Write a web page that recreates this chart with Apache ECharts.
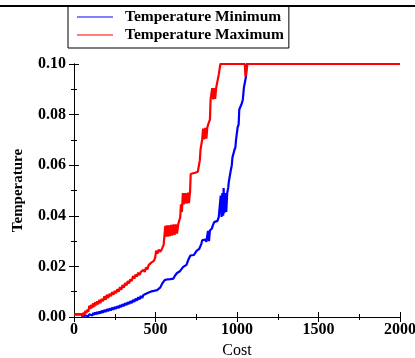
<!DOCTYPE html>
<html>
<head>
<meta charset="utf-8">
<script src="https://cdn.jsdelivr.net/npm/echarts@6/dist/echarts.min.js"></script>
<style>
  html, body { margin: 0; padding: 0; background: #fff; }
  #chart { width: 415px; height: 358px; }
</style>
</head>
<body>
<div id="chart"></div>
<script>
// Series names
const seriesNames = ['Temperature Minimum', 'Temperature Maximum'];

// Axis ranges and ticks
const xTicks = [0, 500, 1000, 1500, 2000];
const yTicks = [0.00, 0.02, 0.04, 0.06, 0.08, 0.10];

// Minimum temperature vs. cost: [cost, temperature]
const tempMin = [
  [0,0.001],[50,0.001],[52,0],[58,0.0004],[64,0],[70,0.0006],[76,0.0001],[82,0.0009],[88,0.0003],
  [94,0.0011],[100,0.0004],[106,0.0013],[112,0.0006],[118,0.0016],[124,0.0008],[130,0.0018],
  [136,0.001],[142,0.002],[148,0.0012],[155,0.0022],[162,0.0014],[170,0.0025],[178,0.0017],
  [186,0.0028],[194,0.002],[202,0.0031],[210,0.0023],[218,0.0034],[226,0.0026],[234,0.0037],
  [242,0.0029],[250,0.004],[258,0.0032],[266,0.0043],[274,0.0035],[282,0.0047],[290,0.0039],
  [298,0.0051],[306,0.0043],[314,0.0055],[322,0.0047],[330,0.0059],[338,0.0051],[346,0.0063],
  [354,0.0055],[362,0.0068],[370,0.006],[378,0.0073],[386,0.0065],[394,0.0078],[402,0.007],
  [410,0.0083],[418,0.0075],[426,0.0087],[434,0.008],[442,0.0092],[450,0.0085],[458,0.0097],
  [466,0.009],[474,0.0101],[482,0.0094],[490,0.0103],[500,0.0098],[510,0.0106],[520,0.0112],
  [530,0.0117],[540,0.0131],[548,0.0126],[556,0.0146],[565,0.0141],[575,0.0149],[583,0.0143],
  [592,0.015],[600,0.0145],[610,0.0152],[618,0.0162],[626,0.0157],[632,0.0174],[640,0.0168],
  [650,0.0181],[660,0.0184],[670,0.0198],[680,0.0193],[690,0.0206],[700,0.0224],[706,0.0219],
  [714,0.0243],[725,0.0237],[735,0.0245],[745,0.024],[752,0.0261],[760,0.0256],[768,0.0269],
  [776,0.0274],[782,0.029],[786,0.0303],[795,0.0299],[805,0.0306],[812,0.0297],[818,0.0302],
  [822,0.034],[828,0.03],[834,0.0342],[840,0.0345],[846,0.035],[852,0.0362],[860,0.0375],
  [870,0.0371],[880,0.038],[888,0.0395],[896,0.0398],[900,0.048],[905,0.0395],[910,0.049],
  [915,0.04],[918,0.051],[922,0.041],[928,0.049],[934,0.0415],[940,0.049],[946,0.051],
  [950,0.0535],[956,0.054],[962,0.058],[968,0.06],[972,0.063],[978,0.0635],[984,0.066],
  [990,0.067],[994,0.07],[1000,0.0705],[1004,0.075],[1010,0.076],[1014,0.082],[1024,0.0825],
  [1030,0.0845],[1036,0.086],[1042,0.0905],[1050,0.0908],[1055,0.095],[1060,0.1],[2000,0.1]
];

// Maximum temperature vs. cost: [cost, temperature]
const tempMax = [
  [0,0.001],[50,0.001],[52,0.0002],[58,0.0018],[64,0.0008],[70,0.0025],[76,0.0015],[82,0.003],
  [88,0.002],[94,0.0045],[100,0.0032],[106,0.0048],[112,0.0035],[118,0.0055],[124,0.004],
  [130,0.0058],[136,0.0046],[142,0.0062],[148,0.005],[155,0.0068],[162,0.0055],[170,0.0072],
  [178,0.0062],[186,0.0082],[194,0.0068],[202,0.0088],[210,0.0075],[218,0.0092],[226,0.0082],
  [234,0.0098],[242,0.0088],[250,0.0103],[258,0.0094],[266,0.011],[274,0.01],[282,0.0118],
  [290,0.0108],[298,0.0126],[306,0.0116],[314,0.0134],[322,0.0125],[330,0.0142],[338,0.0133],
  [346,0.015],[354,0.0142],[362,0.0162],[370,0.0152],[378,0.0168],[386,0.016],[394,0.0175],
  [402,0.0166],[410,0.0178],[418,0.0172],[426,0.0186],[434,0.0178],[442,0.0196],[450,0.0188],
  [458,0.0205],[466,0.0198],[474,0.0215],[482,0.0208],[490,0.0222],[498,0.0235],[504,0.0262],
  [512,0.025],[520,0.0266],[530,0.0258],[540,0.027],[550,0.0285],[554,0.0315],[560,0.036],
  [564,0.0318],[570,0.0362],[575,0.0318],[582,0.0362],[588,0.032],[595,0.0364],[602,0.0322],
  [610,0.0366],[617,0.0325],[625,0.0366],[632,0.033],[640,0.0368],[646,0.0372],[652,0.0395],
  [656,0.0445],[662,0.0415],[668,0.049],[674,0.0445],[682,0.049],[690,0.0448],[698,0.0492],
  [705,0.045],[712,0.0495],[716,0.0565],[730,0.0568],[745,0.057],[760,0.0575],[766,0.058],
  [772,0.062],[776,0.066],[782,0.0665],[786,0.07],[792,0.0745],[798,0.0702],[805,0.0748],
  [812,0.0705],[818,0.075],[824,0.0745],[828,0.077],[834,0.078],[838,0.086],[844,0.0858],
  [848,0.0905],[854,0.086],[860,0.0905],[866,0.0862],[872,0.0905],[878,0.0908],[884,0.0912],
  [888,0.0958],[894,0.096],[898,0.1],[1048,0.1],[1052,0.095],[1058,0.0955],[1064,0.1],[2000,0.1]
];

const FONT = '"Liberation Serif", "Times New Roman", serif';
const chart = echarts.init(document.getElementById('chart'), null, { renderer: 'canvas' });

const tickStyle = { show: true, inside: true, length: 5, lineStyle: { color: '#000', width: 1 } };
const minorStyle = { show: true, splitNumber: 2, length: 3, lineStyle: { color: '#000', width: 1 } };
const lineStyleAxis = { show: true, lineStyle: { color: '#000', width: 1 } };

chart.setOption({
  animation: false,
  backgroundColor: '#fff',
  grid: { left: 74, right: 15, top: 64, bottom: 41, containLabel: false, outerBoundsMode: 'none' },
  legend: {
    data: seriesNames,
    orient: 'vertical',
    left: 68,
    top: 6,
    padding: [3, 5, 5, 9],
    itemGap: 2,
    itemWidth: 36,
    itemHeight: 1,
    icon: 'rect',
    borderColor: '#000',
    borderWidth: 1,
    textStyle: { fontFamily: FONT, fontWeight: 'bold', fontSize: 15.5, color: '#000', padding: [0, 0, 0, 7], lineHeight: 15 }
  },
  graphic: [{
    type: 'line',
    shape: { x1: 0, y1: 6, x2: 415, y2: 6 },
    style: { stroke: '#000', lineWidth: 2 },
    z: 100
  }],
  xAxis: [{
    type: 'value',
    min: xTicks[0],
    max: xTicks[xTicks.length - 1],
    interval: xTicks[1] - xTicks[0],
    name: 'Cost',
    nameLocation: 'middle',
    nameGap: 26,
    nameTextStyle: { fontFamily: FONT, fontSize: 16, color: '#000' },
    axisLine: lineStyleAxis,
    axisTick: tickStyle,
    minorTick: minorStyle,
    splitLine: { show: false },
    axisLabel: { fontFamily: FONT, fontWeight: 'bold', fontSize: 16, color: '#000', margin: 5, formatter: v => String(v) }
  }, {
    type: 'value',
    position: 'top',
    min: xTicks[0],
    max: xTicks[xTicks.length - 1],
    interval: xTicks[1] - xTicks[0],
    axisLine: lineStyleAxis,
    axisTick: tickStyle,
    minorTick: minorStyle,
    splitLine: { show: false },
    axisLabel: { show: false }
  }],
  yAxis: [{
    type: 'value',
    min: yTicks[0],
    max: yTicks[yTicks.length - 1],
    interval: yTicks[1] - yTicks[0],
    name: 'Temperature',
    nameLocation: 'middle',
    nameGap: 48,
    nameTextStyle: { fontFamily: FONT, fontWeight: 'bold', fontSize: 15, color: '#000' },
    axisLine: lineStyleAxis,
    axisTick: tickStyle,
    minorTick: minorStyle,
    splitLine: { show: false },
    axisLabel: {
      fontFamily: FONT, fontWeight: 'bold', fontSize: 16, color: '#000', margin: 8,
      formatter: v => v.toFixed(2)
    }
  }, {
    type: 'value',
    position: 'right',
    min: yTicks[0],
    max: yTicks[yTicks.length - 1],
    interval: yTicks[1] - yTicks[0],
    axisLine: lineStyleAxis,
    axisTick: tickStyle,
    minorTick: minorStyle,
    splitLine: { show: false },
    axisLabel: { show: false }
  }],
  series: [{
    name: seriesNames[0],
    type: 'line',
    data: tempMin,
    showSymbol: false,
    color: '#0000ff',
    lineStyle: { width: 2.2, color: '#0000ff' },
    z: 2
  }, {
    name: seriesNames[1],
    type: 'line',
    data: tempMax,
    showSymbol: false,
    color: '#ff0000',
    lineStyle: { width: 2.2, color: '#ff0000' },
    z: 3
  }]
});
</script>
</body>
</html>
